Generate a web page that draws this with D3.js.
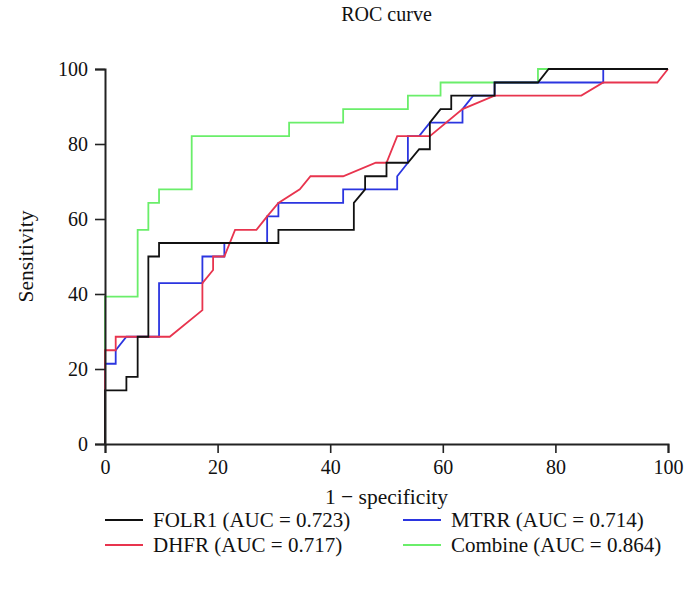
<!DOCTYPE html>
<html><head><meta charset="utf-8">
<script src="https://cdn.jsdelivr.net/npm/d3@7"></script>
<style>body{margin:0;background:#fff}svg{display:block}text{font-family:"Liberation Serif","DejaVu Serif",serif;fill:#111}</style>
</head><body><div id="c"></div>
<script>
const title = "ROC curve";
const xLabel = "1 \u2212 specificity";
const yLabel = "Sensitivity";
const xTicks = [0, 20, 40, 60, 80, 100];
const yTicks = [0, 20, 40, 60, 80, 100];
const seriesNames = ["FOLR1 (AUC = 0.723)", "DHFR (AUC = 0.717)", "MTRR (AUC = 0.714)", "Combine (AUC = 0.864)"];
const seriesColors = ["#111111", "#e8344e", "#2b35e0", "#6aee6a"];
// [1-specificity, sensitivity] in %
const folr1 = [[0,0],[0,14.3],[3.8,14.3],[3.8,17.9],[5.8,17.9],[5.8,28.6],[7.7,28.6],[7.7,50],[9.6,50],[9.6,53.6],[30.8,53.6],[30.8,57.1],[44.2,57.1],[44.2,64.3],[46.2,67.9],[46.2,71.4],[50,71.4],[50,75],[53.8,75],[55.8,78.6],[57.7,78.6],[57.7,85.7],[59.6,89.3],[61.5,89.3],[61.5,92.9],[69.2,92.9],[69.2,96.4],[76.9,96.4],[78.8,100],[100,100]];
const dhfr = [[0,0],[0,25],[1.9,25],[1.9,28.6],[11.5,28.6],[17.3,35.7],[17.3,42.9],[19.2,46.4],[19.2,50],[21.2,50],[23.1,57.1],[26.9,57.1],[28.8,60.7],[30.8,64.3],[34.6,67.9],[36.5,71.4],[42.3,71.4],[48.1,75],[50,75],[51.9,82.1],[57.7,82.1],[63.5,89.3],[69.2,92.9],[84.6,92.9],[88.5,96.4],[98.1,96.4],[100,100]];
const mtrr = [[0,0],[0,21.4],[1.9,21.4],[1.9,25],[3.8,28.6],[9.6,28.6],[9.6,42.9],[17.3,42.9],[17.3,50],[21.2,50],[21.2,53.6],[28.8,53.6],[28.8,60.7],[30.8,60.7],[30.8,64.3],[42.3,64.3],[42.3,67.9],[51.9,67.9],[51.9,71.4],[53.8,75],[53.8,82.1],[55.8,82.1],[57.7,85.7],[63.5,85.7],[63.5,89.3],[65.4,92.9],[69.2,92.9],[69.2,96.4],[88.5,96.4],[88.5,100],[100,100]];
const combine = [[0,0],[0,39.3],[5.8,39.3],[5.8,57.1],[7.7,57.1],[7.7,64.3],[9.6,64.3],[9.6,67.9],[15.4,67.9],[15.4,82.1],[32.7,82.1],[32.7,85.7],[42.3,85.7],[42.3,89.3],[53.8,89.3],[53.8,92.9],[59.6,92.9],[59.6,96.4],[76.9,96.4],[76.9,100],[100,100]];
const seriesData = [folr1, dhfr, mtrr, combine];

const W = 697, H = 597;
const L = 105, R = 668, T = 69, B = 444;
const svg = d3.select("#c").append("svg").attr("width", W).attr("height", H);
const x = d3.scaleLinear().domain([0, 100]).range([L, R]);
const y = d3.scaleLinear().domain([0, 100]).range([B, T]);

svg.append("text").attr("x", (L + R) / 2).attr("y", 21).attr("text-anchor", "middle").style("font-size", "20px").text(title);

const line = d3.line().x(d => x(d[0])).y(d => y(d[1]));
// draw order bottom to top: Combine, MTRR, DHFR, FOLR1
[3, 2, 1, 0].forEach(i => {
  svg.append("path").datum(seriesData[i]).attr("d", line).attr("fill", "none")
    .attr("stroke", seriesColors[i]).attr("stroke-width", 1.8).attr("stroke-linejoin", "miter");
});

const xAxis = svg.append("g").attr("transform", `translate(0,${B})`).call(d3.axisBottom(x).tickValues(xTicks).tickSize(9).tickPadding(7));
const yAxis = svg.append("g").attr("transform", `translate(${L},0)`).call(d3.axisLeft(y).tickValues(yTicks).tickSize(10).tickPadding(7));
[xAxis, yAxis].forEach(g => {
  g.select(".domain").attr("stroke", "#222").attr("stroke-width", 2);
  g.selectAll(".tick line").attr("stroke", "#222").attr("stroke-width", 1.6);
  g.selectAll(".tick text").style("font-size", "20px").style("font-family", '"Liberation Serif",serif').attr("fill", "#111");
});

svg.append("text").attr("x", (L + R) / 2).attr("y", 504).attr("text-anchor", "middle").style("font-size", "21.5px").text(xLabel);
svg.append("text").attr("transform", `translate(33,${(T + B) / 2}) rotate(-90)`).attr("text-anchor", "middle").style("font-size", "21.5px").text(yLabel);

const legPos = [[105, 520], [105, 545], [403, 520], [403, 545]];
seriesNames.forEach((n, i) => {
  const [lx, ly] = legPos[i];
  svg.append("line").attr("x1", lx).attr("x2", lx + 38).attr("y1", ly).attr("y2", ly).attr("stroke", seriesColors[i]).attr("stroke-width", 1.8);
  svg.append("text").attr("x", lx + 48).attr("y", ly + 7).style("font-size", "21px").text(n);
});
</script></body></html>
